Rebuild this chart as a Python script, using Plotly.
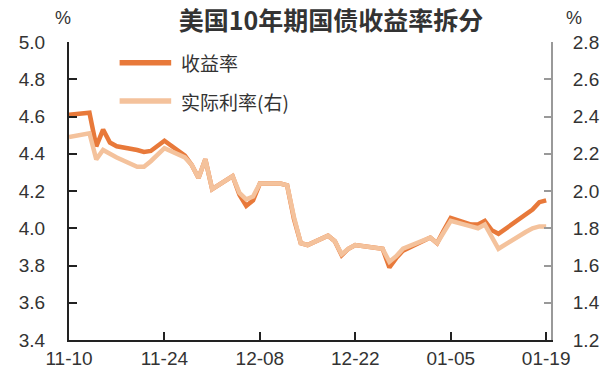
import plotly.graph_objects as go

# Trading dates (2023-11-10 .. 2024-01-19)
dates = [
    "2023-11-10", "2023-11-13", "2023-11-14", "2023-11-15", "2023-11-16", "2023-11-17",
    "2023-11-20", "2023-11-21", "2023-11-22", "2023-11-24", "2023-11-27", "2023-11-28",
    "2023-11-29", "2023-11-30", "2023-12-01", "2023-12-04", "2023-12-05", "2023-12-06",
    "2023-12-07", "2023-12-08", "2023-12-11", "2023-12-12", "2023-12-13", "2023-12-14",
    "2023-12-15", "2023-12-18", "2023-12-19", "2023-12-20", "2023-12-21", "2023-12-22",
    "2023-12-26", "2023-12-27", "2023-12-28", "2023-12-29", "2024-01-02", "2024-01-03",
    "2024-01-04", "2024-01-05", "2024-01-08", "2024-01-09", "2024-01-10", "2024-01-11",
    "2024-01-12", "2024-01-16", "2024-01-17", "2024-01-18", "2024-01-19",
]

# 10Y Treasury yield, % (left axis)
yield_10y = [
    4.61, 4.62, 4.44, 4.53, 4.46, 4.44,
    4.42, 4.41, 4.415, 4.47, 4.39, 4.34,
    4.27, 4.37, 4.21, 4.28, 4.18, 4.12,
    4.15, 4.24, 4.24, 4.23, 4.05, 3.92,
    3.91, 3.96, 3.93, 3.855, 3.89, 3.91,
    3.89, 3.79, 3.84, 3.88, 3.95, 3.92,
    3.99, 4.055, 4.02, 4.02, 4.04, 3.99,
    3.97, 4.07, 4.10, 4.14, 4.15,
]

# 10Y real yield, % (right axis)
real_10y = [
    2.29, 2.31, 2.17, 2.22, 2.20, 2.18,
    2.13, 2.13, 2.16, 2.23, 2.18, 2.14,
    2.07, 2.17, 2.01, 2.08, 1.99, 1.955,
    1.97, 2.04, 2.04, 2.03, 1.86, 1.72,
    1.71, 1.76, 1.73, 1.66, 1.69, 1.71,
    1.69, 1.62, 1.65, 1.69, 1.75, 1.72,
    1.78, 1.84, 1.81, 1.80, 1.82, 1.76,
    1.69, 1.78, 1.80, 1.81, 1.81,
]

tick_dates = ["2023-11-10", "2023-11-24", "2023-12-08", "2023-12-22", "2024-01-05", "2024-01-19"]
tick_labels = ["11-10", "11-24", "12-08", "12-22", "01-05", "01-19"]

left_ticks = [3.4, 3.6, 3.8, 4.0, 4.2, 4.4, 4.6, 4.8, 5.0]
right_ticks = [1.2, 1.4, 1.6, 1.8, 2.0, 2.2, 2.4, 2.6, 2.8]

series_names = ["收益率", "实际利率(右)"]
title_text = "美国10年期国债收益率拆分"

DARK = "#E8793A"
LIGHT = "#F4C29C"
FONT = "Liberation Sans, Noto Sans CJK SC, sans-serif"
CJK = "Noto Sans CJK SC, sans-serif"
TXT = "#333333"

fig = go.Figure()
fig.add_trace(go.Scatter(x=dates, y=yield_10y, mode="lines", name=series_names[0],
                         line=dict(color=DARK, width=4.5), showlegend=False))
fig.add_trace(go.Scatter(x=dates, y=real_10y, mode="lines", name=series_names[1],
                         line=dict(color=LIGHT, width=4.5), yaxis="y2", showlegend=False))

# Legend drawn as short line samples plus labels
for i, (name, col) in enumerate(zip(series_names, [DARK, LIGHT])):
    yp = 0.93 - i * 0.128
    fig.add_shape(type="line", xref="paper", yref="paper",
                  x0=0.105, x1=0.212, y0=yp, y1=yp,
                  line=dict(color=col, width=5.5))
    fig.add_annotation(xref="paper", yref="paper", x=0.228, y=yp, text=name,
                       showarrow=False, xanchor="left", yanchor="middle",
                       font=dict(family=CJK, size=19, color=TXT))

# Unit labels
fig.add_annotation(xref="paper", yref="paper", x=-0.012, y=1.0, yshift=24, text="%",
                   showarrow=False, xanchor="center", yanchor="middle",
                   font=dict(family=FONT, size=18, color=TXT))
fig.add_annotation(xref="paper", yref="paper", x=1.047, y=1.0, yshift=24, text="%",
                   showarrow=False, xanchor="center", yanchor="middle",
                   font=dict(family=FONT, size=18, color=TXT))

fig.update_layout(
    width=612, height=381,
    margin=dict(l=69, r=57, t=42, b=39),
    paper_bgcolor="white", plot_bgcolor="white",
    title=dict(text="<b>" + title_text + "</b>", x=0.541, xanchor="center",
               y=0.945, yanchor="middle",
               font=dict(family=CJK, size=25, color=TXT)),
    xaxis=dict(
        type="date", range=["2023-11-10", "2024-01-19 17:00"],
        tickvals=tick_dates, ticktext=tick_labels,
        ticks="inside", ticklen=8, tickwidth=1.5, tickcolor="#222",
        showline=True, linecolor="#222", linewidth=2,
        showgrid=False, zeroline=False,
        tickfont=dict(family=FONT, size=19, color=TXT),
    ),
    yaxis=dict(
        range=[3.4, 5.0], tickvals=left_ticks, tickformat=".1f",
        ticks="inside", ticklen=8, tickwidth=1.5, tickcolor="#222",
        showline=True, linecolor="#222", linewidth=2,
        showgrid=False, zeroline=False, ticklabelstandoff=18,
        tickfont=dict(family=FONT, size=19, color=TXT),
    ),
    yaxis2=dict(
        range=[1.2, 2.8], tickvals=right_ticks, tickformat=".1f",
        overlaying="y", side="right",
        ticks="inside", ticklen=7, tickwidth=1.5, tickcolor="#999",
        showline=True, linecolor="#999", linewidth=2,
        showgrid=False, zeroline=False, ticklabelstandoff=16,
        tickfont=dict(family=FONT, size=19, color=TXT),
    ),
)

fig.write_html("out.html")
